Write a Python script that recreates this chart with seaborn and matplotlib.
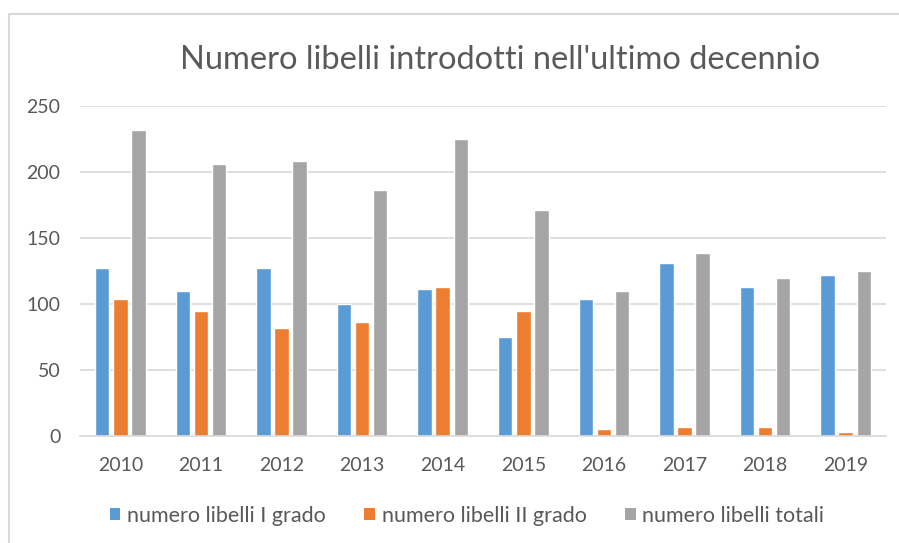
#!/usr/bin/env python3
"""
Numero libelli introdotti nell'ultimo decennio - barre raggruppate per anno.
"""
import pandas as pd
import matplotlib
matplotlib.use('Agg')
import matplotlib.pyplot as plt
from matplotlib.patches import Rectangle
import seaborn as sns

# dati
anni = ['2010', '2011', '2012', '2013', '2014', '2015', '2016', '2017', '2018', '2019']
libelli_I = [127, 110, 127, 100, 111, 75, 104, 131, 113, 122]
libelli_II = [104, 95, 82, 86, 113, 95, 5, 7, 7, 3]
libelli_tot = [232, 206, 208, 186, 225, 171, 110, 139, 120, 125]
serie = ['numero libelli I grado', 'numero libelli II grado', 'numero libelli totali']
colori = ['#5B9BD5', '#ED7D31', '#A5A5A5']

W, H = 899, 543


def build_df() -> pd.DataFrame:
    rows = []
    for nome, valori in zip(serie, [libelli_I, libelli_II, libelli_tot]):
        for a, v in zip(anni, valori):
            rows.append({'anno': a, 'serie': nome, 'valore': v})
    return pd.DataFrame(rows)


def main():
    sns.set_style('white')
    plt.rcParams['font.family'] = ['Lato', 'DejaVu Sans']
    testo = '#595959'

    df = build_df()
    fig = plt.figure(figsize=(W / 100, H / 100), dpi=100)
    ax = fig.add_axes([80 / W, 1 - 436 / H, (886 - 80) / W, (436 - 106) / H])

    sns.barplot(data=df, x='anno', y='valore', hue='serie', palette=colori,
                width=0.67, gap=0.2, ax=ax, legend=False, saturation=1)

    ax.set_ylim(0, 250)
    ax.set_yticks(range(0, 251, 50))
    ax.set_xlim(-0.5, len(anni) - 0.5)
    ax.set_xlabel('')
    ax.set_ylabel('')
    ax.grid(True, axis='y', color='#D9D9D9', linewidth=1.2)
    ax.set_axisbelow(True)
    for s in ['top', 'right', 'left']:
        ax.spines[s].set_visible(False)
    ax.spines['bottom'].set_color('#D9D9D9')
    ax.spines['bottom'].set_linewidth(1.2)
    ax.tick_params(axis='both', length=0, labelsize=14, colors=testo)
    ax.tick_params(axis='y', pad=14)
    ax.tick_params(axis='x', pad=15)

    fig.text(500 / W, 1 - 60 / H, "Numero libelli introdotti nell'ultimo decennio",
             ha='center', va='center', fontsize=23.5, color=testo)

    handles = [Rectangle((0, 0), 1, 1, facecolor=c, edgecolor='none') for c in colori]
    fig.legend(handles, serie, loc='center', bbox_to_anchor=(467 / W, 1 - 516 / H),
               ncol=3, frameon=False, fontsize=15.5, labelcolor=testo,
               handlelength=0.5, handleheight=0.5, handletextpad=0.3, columnspacing=1.8)

    # bordo dell'area grafico
    fig.patches.append(Rectangle((9 / W, -0.1), 1.0, (H - 14) / H + 0.1,
                                 transform=fig.transFigure, fill=False,
                                 edgecolor='#D9D9D9', linewidth=1.5))

    fig.savefig('out.png', dpi=100)
    plt.close(fig)


if __name__ == '__main__':
    main()
